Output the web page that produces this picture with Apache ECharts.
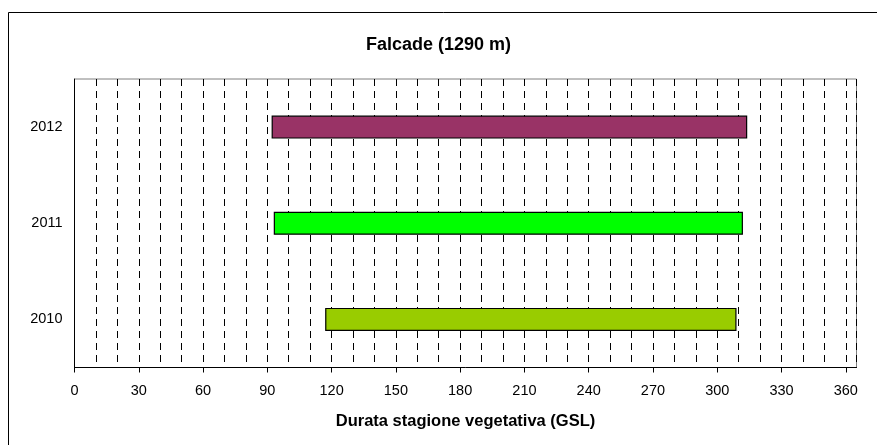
<!DOCTYPE html>
<html>
<head>
<meta charset="utf-8">
<script src="https://cdn.jsdelivr.net/npm/echarts@6/dist/echarts.min.js"></script>
<style>
  html, body { margin: 0; padding: 0; background: #fff; }
  #chart { width: 877px; height: 445px; }
</style>
</head>
<body>
<div id="chart"></div>
<script>
// Growing season (GSL) per year at Falcade: start and end day of year
const years = ['2010', '2011', '2012'];
const seasonStart = [117, 93, 92];
const seasonEnd = [309, 312, 314];
const barColors = ['#99CC00', '#00FF00', '#993366'];
const xTickStep = 30;

const duration = seasonEnd.map((e, i) => e - seasonStart[i]);

const chart = echarts.init(document.getElementById('chart'), null, { renderer: 'canvas' });
const FONT = '"Liberation Sans", Arial, sans-serif';

chart.setOption({
  animation: false,
  backgroundColor: '#ffffff',
  title: {
    text: 'Falcade (1290 m)',
    left: 'center',
    top: 31,
    textStyle: { fontFamily: FONT, fontSize: 18, fontWeight: 'bold', color: '#000' }
  },
  graphic: [{
    type: 'rect',
    shape: { x: 8.5, y: 12.5, width: 900, height: 500 },
    style: { fill: 'none', stroke: '#000', lineWidth: 1 },
    silent: true,
    z: -1
  }],
  grid: {
    left: 74.5,
    right: 20.5,
    top: 79,
    bottom: 77.5,
    show: true,
    borderColor: '#808080',
    borderWidth: 1,
    backgroundColor: 'transparent'
  },
  xAxis: {
    type: 'value',
    min: 0,
    max: 365,
    interval: xTickStep,
    name: 'Durata stagione vegetativa (GSL)',
    nameLocation: 'middle',
    nameGap: 45,
    nameTextStyle: { fontFamily: FONT, fontSize: 16.5, fontWeight: 'bold', color: '#000' },
    axisLine: { show: true, lineStyle: { color: '#000', width: 1 } },
    axisTick: { show: true, length: 5, lineStyle: { color: '#000' } },
    axisLabel: { fontFamily: FONT, fontSize: 14.5, color: '#000', margin: 16, showMaxLabel: false },
    splitLine: { show: true, lineStyle: { color: '#000', type: [7, 5], width: 1 } },
    minorTick: { show: false, splitNumber: 3 },
    minorSplitLine: { show: true, lineStyle: { color: '#000', type: [7, 5], width: 1 } }
  },
  yAxis: {
    type: 'category',
    data: years,
    axisLine: { show: true, lineStyle: { color: '#000', width: 1 } },
    axisTick: { show: false },
    axisLabel: { fontFamily: FONT, fontSize: 14.5, color: '#000', margin: 12 },
    splitLine: { show: false }
  },
  series: [
    {
      name: 'inizio',
      type: 'bar',
      stack: 'gsl',
      barWidth: 23,
      silent: true,
      itemStyle: { color: 'transparent', borderWidth: 0 },
      data: seasonStart
    },
    {
      name: 'durata',
      type: 'bar',
      stack: 'gsl',
      barWidth: 23,
      itemStyle: { borderColor: '#000', borderWidth: 1.2 },
      data: duration.map((d, i) => ({ value: d, itemStyle: { color: barColors[i] } }))
    }
  ]
});
</script>
</body>
</html>
